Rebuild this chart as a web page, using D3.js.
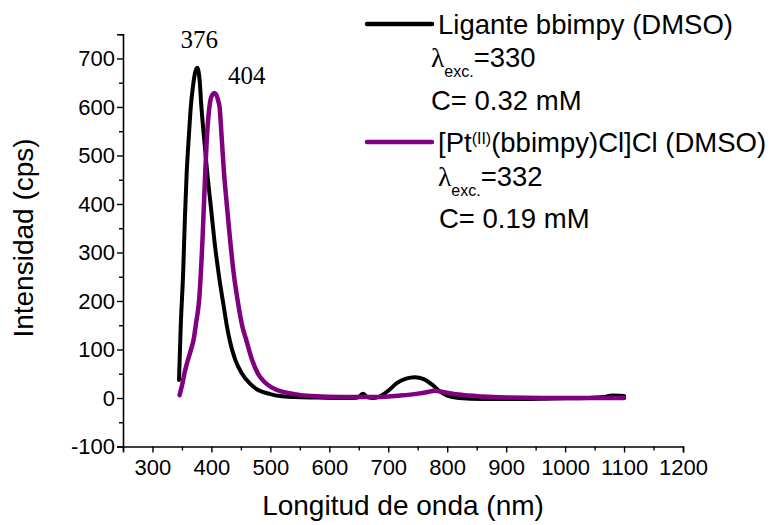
<!DOCTYPE html>
<html>
<head>
<meta charset="utf-8">
<script src="https://cdn.jsdelivr.net/npm/d3@7"></script>
<style>
  html, body { margin: 0; padding: 0; background: #fff; }
  svg { display: block; }
  text { font-family: "Liberation Sans", Arial, sans-serif; fill: #000; }
</style>
</head>
<body>
<svg id="chart" width="773" height="525"></svg>
<script>
// Emission spectra: free ligand vs. Pt(II) complex, both in DMSO
const ligandWavelength = [345, 348, 352, 355, 358, 362, 365, 369, 372, 376, 380, 383, 388, 393, 399, 405, 413, 421, 426, 431, 440, 452, 465, 480, 500, 516, 540, 580, 640, 650, 657, 664, 672, 685, 700, 715, 730, 745, 760, 775, 787, 800, 820, 860, 920, 980, 1040, 1065, 1080, 1100];
const ligandIntensity  = [37, 150, 257, 370, 463, 545, 600, 645, 669, 681, 655, 600, 530, 463, 395, 325, 250, 188, 150, 119, 80, 50, 30, 16, 8, 4, 2, 1, 0, 2, 9, 2, 0, 3, 15, 31, 40, 43, 39, 27, 14, 5, 0, -2, -2, -1, 0, 2, 5, 4];

const complexWavelength = [346, 350, 355, 360, 365, 370, 374, 379, 385, 389, 392, 395, 398, 402, 405, 408, 411, 414, 417, 421, 426, 431, 438, 446, 452, 459, 468, 479, 490, 502, 520, 541, 570, 620, 680, 720, 750, 765, 779, 795, 820, 860, 900, 960, 1100];
const complexIntensity  = [6, 25, 55, 78, 98, 122, 155, 200, 330, 450, 530, 582, 612, 626, 629, 626, 615, 598, 545, 470, 400, 335, 255, 190, 150, 120, 82, 50, 33, 22, 13, 8, 4, 2, 2, 5, 9, 12, 15, 12, 7, 3, 1, 0, 0];

const xMajorTicks = [300, 400, 500, 600, 700, 800, 900, 1000, 1100, 1200];
const xMinorTicks = [250, 350, 450, 550, 650, 750, 850, 950, 1050, 1150];
const yMajorTicks = [-100, 0, 100, 200, 300, 400, 500, 600, 700];
const yMinorTicks = [-50, 50, 150, 250, 350, 450, 550, 650, 750];

const peakLabels = [
  { wl: 376, value: 681, text: "376" },
  { wl: 404, value: 629, text: "404" }
];

const svg = d3.select("#chart");
const plotLeft = 123, plotRight = 683, plotTop = 34.2, plotBottom = 446.5;

const x = d3.scaleLinear().domain([250, 1200]).range([plotLeft, plotRight]);
const y = d3.scaleLinear().domain([-100, 750]).range([plotBottom, plotTop]);

// Axes: major (labelled) and minor (unlabelled) ticks
svg.append("g").attr("transform", `translate(0,${plotBottom})`)
  .call(d3.axisBottom(x).tickValues(xMajorTicks).tickSize(6).tickPadding(7).tickFormat(d => String(d)));
svg.append("g").attr("transform", `translate(0,${plotBottom})`)
  .call(d3.axisBottom(x).tickValues(xMinorTicks).tickSize(4).tickFormat(""))
  .call(g => g.select(".domain").remove());

svg.append("g").attr("transform", `translate(${plotLeft},0)`)
  .call(d3.axisLeft(y).tickValues(yMajorTicks).tickSize(6).tickPadding(2).tickFormat(d => String(d)));
svg.append("g").attr("transform", `translate(${plotLeft},0)`)
  .call(d3.axisLeft(y).tickValues(yMinorTicks).tickSize(4).tickFormat(""))
  .call(g => g.select(".domain").remove());

svg.selectAll(".domain").attr("stroke", "#000").attr("stroke-width", 1.6);
svg.selectAll(".tick line").attr("stroke", "#000").attr("stroke-width", 1.4);
svg.selectAll(".tick text")
  .style("font-family", '"Liberation Sans", Arial, sans-serif')
  .style("font-size", "22px").attr("fill", "#000");

// Axis titles
svg.append("text")
  .attr("x", (plotLeft + plotRight) / 2).attr("y", 515)
  .attr("text-anchor", "middle").style("font-size", "28px")
  .text("Longitud de onda (nm)");
svg.append("text")
  .attr("transform", "translate(33,238) rotate(-90)")
  .attr("text-anchor", "middle").style("font-size", "28px")
  .text("Intensidad (cps)");

// Spectra
const line = d3.line()
  .x(d => x(d[0])).y(d => y(d[1]))
  .curve(d3.curveMonotoneX);

const ligand = d3.zip(ligandWavelength, ligandIntensity);
const complex = d3.zip(complexWavelength, complexIntensity);

svg.append("path").datum(ligand)
  .attr("d", line).attr("fill", "none")
  .attr("stroke", "#000").attr("stroke-width", 4)
  .attr("stroke-linejoin", "round").attr("stroke-linecap", "round");

svg.append("path").datum(complex)
  .attr("d", line).attr("fill", "none")
  .attr("stroke", "#800080").attr("stroke-width", 4.5)
  .attr("stroke-linejoin", "round").attr("stroke-linecap", "round");

// Peak maxima labels
const peakOffsets = [[2, -20], [33, -9]];
svg.selectAll(".peak").data(peakLabels).enter().append("text")
  .attr("class", "peak")
  .attr("x", (d, i) => x(d.wl) + peakOffsets[i][0])
  .attr("y", (d, i) => y(d.value) + peakOffsets[i][1])
  .attr("text-anchor", "middle")
  .style("font-family", '"Liberation Serif", "Times New Roman", serif')
  .style("font-size", "25px")
  .text(d => d.text);

// Legend
const legend = svg.append("g");
const legendFont = "27.5px";

function legendLine(yPos, color) {
  legend.append("line")
    .attr("x1", 367).attr("x2", 432).attr("y1", yPos).attr("y2", yPos)
    .attr("stroke", color).attr("stroke-width", 4.5).attr("stroke-linecap", "round");
}

function lambdaLine(xPos, yPos, value) {
  const t = legend.append("text").attr("x", xPos).attr("y", yPos).style("font-size", legendFont);
  t.append("tspan").style("font-family", '"Liberation Serif", "Times New Roman", serif').text("λ");
  t.append("tspan").attr("dy", 10).style("font-size", "16px").text("exc.");
  t.append("tspan").attr("dy", -10).text("=" + value);
}

legendLine(24, "#000");
legend.append("text").attr("x", 438).attr("y", 34).style("font-size", legendFont)
  .text("Ligante bbimpy (DMSO)");
lambdaLine(431, 67, "330");
legend.append("text").attr("x", 431).attr("y", 110).style("font-size", legendFont)
  .text("C= 0.32 mM");

legendLine(142, "#800080");
const ptText = legend.append("text").attr("x", 438).attr("y", 152).style("font-size", legendFont);
ptText.append("tspan").text("[Pt");
ptText.append("tspan").attr("dy", -8).style("font-size", "16px").text("(II)");
ptText.append("tspan").attr("dy", 8).text("(bbimpy)Cl]Cl (DMSO)");
lambdaLine(438, 186, "332");
legend.append("text").attr("x", 439).attr("y", 228).style("font-size", legendFont)
  .text("C= 0.19 mM");
</script>
</body>
</html>
